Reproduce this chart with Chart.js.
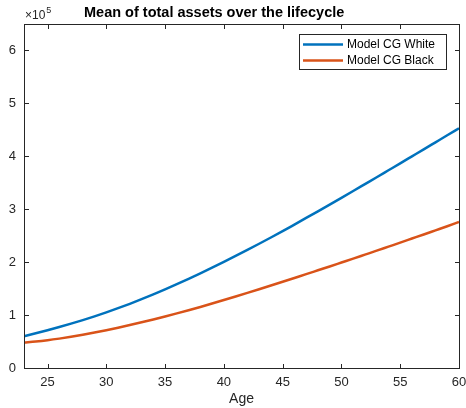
<!DOCTYPE html>
<html>
<head>
<meta charset="utf-8">
<script src="https://cdn.jsdelivr.net/npm/chart.js@4"></script>
<style>
  html, body { margin: 0; padding: 0; background: #fff; }
  canvas { display: block; }
</style>
</head>
<body>
<canvas id="assets-chart" width="466" height="408"></canvas>
<script>
// ages covered by the simulation
const ages = [23, 24, 25, 26, 27, 28, 29, 30, 31, 32, 33, 34, 35, 36, 37, 38, 39, 40, 41,
  42, 43, 44, 45, 46, 47, 48, 49, 50, 51, 52, 53, 54, 55, 56, 57, 58, 59, 60];

// mean total assets by age (dollars)
const whiteAssets = [60000, 65500, 71300, 77400, 83800, 90500, 97600, 105100, 113000, 121300,
  130000, 139100, 148600, 158400, 168500, 178900, 189600, 200600, 211800, 223200,
  234800, 246600, 258600, 271000, 283500, 296100, 308800, 321600, 334500, 347500,
  360500, 373600, 386700, 399900, 413100, 426400, 439700, 453100];
const blackAssets = [48000, 50000, 52500, 55500, 58900, 62700, 66900, 71400, 76200, 81200,
  86400, 91800, 97400, 103200, 109200, 115400, 121800, 128400, 135100, 141900,
  148800, 155800, 162900, 170100, 177300, 184600, 191900, 199300, 206700, 214200,
  221700, 229300, 236900, 244600, 252300, 260100, 267900, 275800];

const seriesLabels = ['Model CG White', 'Model CG Black'];
const xTicks = [25, 30, 35, 40, 45, 50, 55, 60];
const yTicks = [0, 100000, 200000, 300000, 400000, 500000, 600000];

const BLUE = '#0072BD';
const ORANGE = '#D95319';
const AXIS = '#262626';
const FONT = '"Liberation Sans", Arial, Helvetica, sans-serif';

function crisp(v) {
  return Math.round(v) + 0.5;
}

// MATLAB-style decorations: boxed axes, inward ticks, legend, labels
const matlabAxes = {
  id: 'matlabAxes',
  afterDraw(chart) {
    const ctx = chart.ctx;
    const area = chart.chartArea;
    const xs = chart.scales.x;
    const ys = chart.scales.y;
    const L = crisp(area.left), R = crisp(area.right);
    const T = crisp(area.top), B = crisp(area.bottom);
    const tick = 4.5;

    ctx.save();
    ctx.strokeStyle = AXIS;
    ctx.lineWidth = 1;
    ctx.strokeRect(L, T, R - L, B - T);

    ctx.beginPath();
    xTicks.forEach(v => {
      const px = crisp(xs.getPixelForValue(v));
      ctx.moveTo(px, B); ctx.lineTo(px, B - tick);
      ctx.moveTo(px, T); ctx.lineTo(px, T + tick);
    });
    yTicks.forEach(v => {
      const py = crisp(ys.getPixelForValue(v));
      ctx.moveTo(L, py); ctx.lineTo(L + tick, py);
      ctx.moveTo(R, py); ctx.lineTo(R - tick, py);
    });
    ctx.stroke();

    // exponent above the y axis
    ctx.fillStyle = AXIS;
    ctx.textBaseline = 'alphabetic';
    ctx.textAlign = 'left';
    ctx.font = '12px ' + FONT;
    ctx.fillText('\u00d710', area.left + 1, 19);
    const w = ctx.measureText('\u00d710').width;
    ctx.font = '9px ' + FONT;
    ctx.fillText('5', area.left + 2 + w, 13);

    // title
    ctx.fillStyle = '#000';
    ctx.font = 'bold 14.5px ' + FONT;
    ctx.textAlign = 'left';
    ctx.fillText('Mean of total assets over the lifecycle', 84, 17);

    // x axis label
    ctx.fillStyle = AXIS;
    ctx.font = '14px ' + FONT;
    ctx.textAlign = 'center';
    ctx.textBaseline = 'middle';
    ctx.fillText('Age', (area.left + area.right) / 2, 399);

    // legend
    const lx = 299.5, ly = 34.5, lw = 147, lh = 35;
    ctx.fillStyle = '#fff';
    ctx.fillRect(lx, ly, lw, lh);
    ctx.strokeStyle = AXIS;
    ctx.lineWidth = 1;
    ctx.strokeRect(lx, ly, lw, lh);
    const colors = [BLUE, ORANGE];
    const rows = [44.5, 60.5];
    ctx.font = '12px ' + FONT;
    ctx.textAlign = 'left';
    seriesLabels.forEach((label, i) => {
      ctx.strokeStyle = colors[i];
      ctx.lineWidth = 2.5;
      ctx.beginPath();
      ctx.moveTo(303, rows[i]);
      ctx.lineTo(343, rows[i]);
      ctx.stroke();
      ctx.fillStyle = '#000';
      ctx.fillText(label, 347, rows[i] + 0.5);
    });
    ctx.restore();
  }
};

const tickFont = { family: FONT, size: 13 };

new Chart(document.getElementById('assets-chart'), {
  type: 'line',
  data: {
    datasets: [
      {
        label: seriesLabels[0],
        data: ages.map((a, i) => ({ x: a, y: whiteAssets[i] })),
        borderColor: BLUE,
        borderWidth: 2.5,
        pointRadius: 0,
        cubicInterpolationMode: 'monotone',
        fill: false
      },
      {
        label: seriesLabels[1],
        data: ages.map((a, i) => ({ x: a, y: blackAssets[i] })),
        borderColor: ORANGE,
        borderWidth: 2.5,
        pointRadius: 0,
        cubicInterpolationMode: 'monotone',
        fill: false
      }
    ]
  },
  options: {
    responsive: false,
    animation: false,
    devicePixelRatio: 1,
    layout: { padding: { top: 24, right: 7, left: 0, bottom: 0 } },
    plugins: {
      legend: { display: false },
      title: { display: false },
      tooltip: { enabled: false }
    },
    scales: {
      x: {
        type: 'linear',
        min: 23,
        max: 60,
        grid: { display: false, drawTicks: false },
        border: { display: false },
        ticks: { font: tickFont, color: AXIS, padding: 7, maxRotation: 0, autoSkip: false },
        afterBuildTicks: s => { s.ticks = xTicks.map(v => ({ value: v })); },
        afterFit: s => {
          s.height = 40;
          s.paddingLeft = 0;
          s.paddingRight = 0;
        }
      },
      y: {
        type: 'linear',
        min: 0,
        max: 650000,
        grid: { display: false, drawTicks: false },
        border: { display: false },
        ticks: {
          font: tickFont,
          color: AXIS,
          padding: 8,
          callback: v => v / 100000
        },
        afterBuildTicks: s => { s.ticks = yTicks.map(v => ({ value: v })); },
        afterFit: s => {
          s.width = 24;
          s.paddingTop = 0;
          s.paddingBottom = 0;
        }
      }
    }
  },
  plugins: [matlabAxes]
});
</script>
</body>
</html>
